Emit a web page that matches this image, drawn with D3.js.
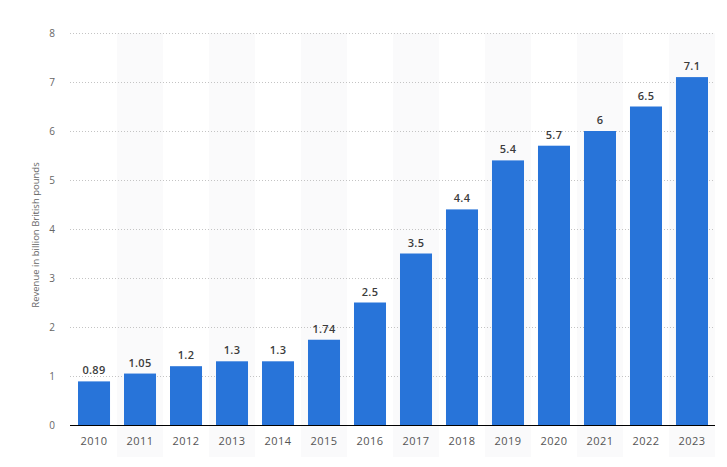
<!DOCTYPE html>
<html>
<head>
<meta charset="utf-8">
<script src="https://cdn.jsdelivr.net/npm/d3@7"></script>
<style>
  body { margin: 0; background: #fff; }
  text { font-family: "Open Sans", "Noto Sans", sans-serif; }
</style>
</head>
<body>
<div id="chart"></div>
<script>
var years = ["2010", "2011", "2012", "2013", "2014", "2015", "2016",
             "2017", "2018", "2019", "2020", "2021", "2022", "2023"];
var revenue = [0.89, 1.05, 1.2, 1.3, 1.3, 1.74, 2.5, 3.5, 4.4, 5.4, 5.7, 6, 6.5, 7.1];
var labels = ["0.89", "1.05", "1.2", "1.3", "1.3", "1.74", "2.5", "3.5", "4.4", "5.4", "5.7", "6", "6.5", "7.1"];
var yTicks = [0, 1, 2, 3, 4, 5, 6, 7, 8];

(function () {
  var w = 727,
      h = 467,
      plotLeft = 70,
      plotRight = 716,
      plotTop = 33,
      plotBottom = 425;

  var svg = d3.select("#chart")
      .append("svg")
      .attr("width", w)
      .attr("height", h);

  var x = d3.scaleBand()
      .domain(years)
      .range([plotLeft, plotRight])
      .paddingInner(0.304)
      .paddingOuter(0.174);

  var y = d3.scaleLinear()
      .domain([0, 8])
      .range([plotBottom, plotTop]);

  var step = x.step();

  // alternating background bands
  svg.selectAll("rect.band")
      .data(years.filter(function(d, i) { return i % 2 === 1; }))
      .enter()
      .append("rect")
      .attr("class", "band")
      .attr("x", function(d) { return x(d) + x.bandwidth() / 2 - step / 2; })
      .attr("y", plotTop)
      .attr("width", step)
      .attr("height", h - plotTop - 10)
      .attr("fill", "#fafafb");

  // grid lines
  svg.selectAll("line.grid")
      .data(yTicks.filter(function(d) { return d > 0; }))
      .enter()
      .append("line")
      .attr("class", "grid")
      .attr("x1", plotLeft)
      .attr("x2", plotRight - 3)
      .attr("y1", function(d) { return y(d) + 0.5; })
      .attr("y2", function(d) { return y(d) + 0.5; })
      .attr("stroke", "#c4c4c4")
      .attr("stroke-width", 1)
      .attr("stroke-dasharray", "1,2");

  // y tick labels
  svg.selectAll("text.ytick")
      .data(yTicks)
      .enter()
      .append("text")
      .attr("class", "ytick")
      .attr("x", 55)
      .attr("y", function(d) { return y(d) + 4; })
      .attr("text-anchor", "end")
      .attr("font-size", "10px")
      .attr("fill", "#666")
      .text(function(d) { return d; });

  // bars
  svg.selectAll("rect.bar")
      .data(revenue)
      .enter()
      .append("rect")
      .attr("class", "bar")
      .attr("x", function(d, i) { return x(years[i]); })
      .attr("y", function(d) { return y(d); })
      .attr("width", x.bandwidth())
      .attr("height", function(d) { return y(0) - y(d); })
      .attr("fill", "#2874d9");

  // value labels
  svg.selectAll("text.val")
      .data(revenue)
      .enter()
      .append("text")
      .attr("class", "val")
      .attr("x", function(d, i) { return x(years[i]) + x.bandwidth() / 2; })
      .attr("y", function(d) { return y(d) - 7; })
      .attr("text-anchor", "middle")
      .attr("font-size", "11px")
      .attr("font-weight", "600")
      .attr("letter-spacing", "0.3px")
      .attr("fill", "#3c3c3c")
      .text(function(d, i) { return labels[i]; });

  // baseline
  svg.append("line")
      .attr("x1", plotLeft)
      .attr("x2", plotRight - 1)
      .attr("y1", y(0) + 0.5)
      .attr("y2", y(0) + 0.5)
      .attr("stroke", "#000")
      .attr("stroke-width", 1);

  // x tick labels
  svg.selectAll("text.xtick")
      .data(years)
      .enter()
      .append("text")
      .attr("class", "xtick")
      .attr("x", function(d) { return x(d) + x.bandwidth() / 2; })
      .attr("y", 445)
      .attr("text-anchor", "middle")
      .attr("font-size", "11px")
      .attr("letter-spacing", "0.5px")
      .attr("fill", "#555")
      .text(function(d) { return d; });

  // y axis title
  svg.append("text")
      .attr("transform", "translate(39," + ((plotTop + plotBottom) / 2 + 6) + ") rotate(-90)")
      .attr("text-anchor", "middle")
      .attr("font-size", "9.5px")
      .attr("fill", "#666")
      .text("Revenue in billion British pounds");
})();
</script>
</body>
</html>
